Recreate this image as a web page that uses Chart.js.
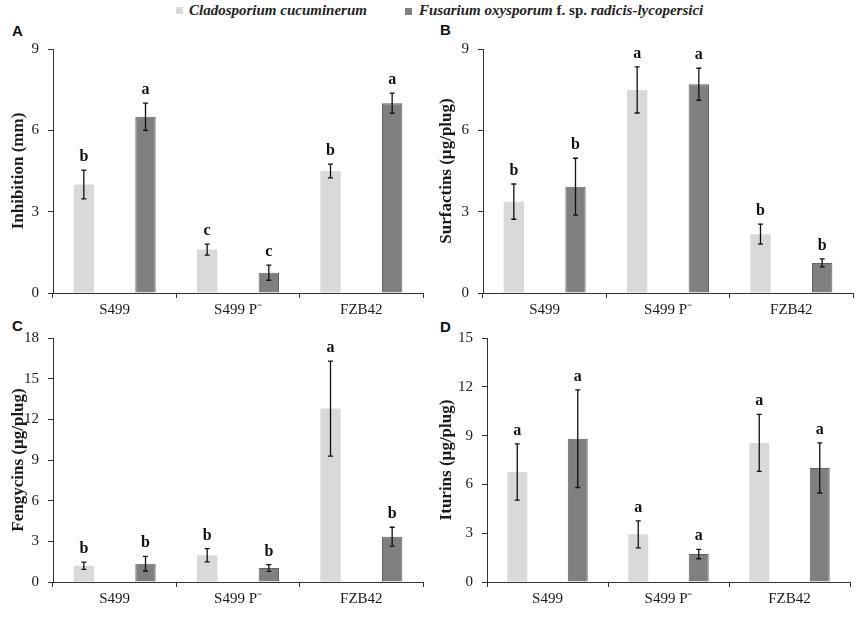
<!DOCTYPE html>
<html>
<head>
<meta charset="utf-8">
<script src="https://cdn.jsdelivr.net/npm/chart.js@4"></script>
<style>
  body { margin: 0; background: #fff; width: 856px; height: 618px; position: relative; overflow: hidden; }
  .panel { position: absolute; }
  .letter { position: absolute; font: bold 15px "Liberation Sans", Arial, sans-serif; line-height: 18px; color: #111; }
  .legend { position: absolute; top: 0; font: bold 15px "Liberation Serif", "Times New Roman", serif; line-height: 20px; color: #222; white-space: nowrap; }
  .sq { position: absolute; width: 7px; height: 7px; }
</style>
</head>
<body>

<div class="sq" style="left:176px;top:7px;background:#d9d9d9"></div>
<div class="legend" style="left:189px"><i>Cladosporium cucuminerum</i></div>
<div class="sq" style="left:405px;top:8px;background:#808080"></div>
<div class="legend" style="left:419px"><i>Fusarium oxysporum</i> f. sp. <i>radicis-lycopersici</i></div>

<div class="letter" style="left:12px;top:22px">A</div>
<div class="letter" style="left:440px;top:21px">B</div>
<div class="letter" style="left:12px;top:317px">C</div>
<div class="letter" style="left:440px;top:318px">D</div>

<div class="panel" style="left:0px;top:20px"><canvas id="chartA" width="428" height="298"></canvas></div>
<div class="panel" style="left:428px;top:20px"><canvas id="chartB" width="428" height="298"></canvas></div>
<div class="panel" style="left:0px;top:318px"><canvas id="chartC" width="428" height="300"></canvas></div>
<div class="panel" style="left:428px;top:318px"><canvas id="chartD" width="428" height="300"></canvas></div>

<script>
// strains on the x axis
const strains = ['S499', 'S499 P\u207B', 'FZB42'];
const seriesNames = ['Cladosporium cucuminerum', 'Fusarium oxysporum f. sp. radicis-lycopersici'];

// A - inhibition (mm)
const inhibClado = [4.0, 1.6, 4.5];
const inhibCladoErr = [0.53, 0.2, 0.25];
const inhibCladoLetters = ['b', 'c', 'b'];
const inhibFusa = [6.5, 0.75, 7.0];
const inhibFusaErr = [0.5, 0.28, 0.37];
const inhibFusaLetters = ['a', 'c', 'a'];

// B - surfactins (ug/plug)
const surfClado = [3.37, 7.49, 2.17];
const surfCladoErr = [0.65, 0.85, 0.37];
const surfCladoLetters = ['b', 'a', 'b'];
const surfFusa = [3.92, 7.7, 1.11];
const surfFusaErr = [1.05, 0.59, 0.15];
const surfFusaLetters = ['b', 'a', 'b'];

// C - fengycins (ug/plug)
const fengClado = [1.2, 1.97, 12.79];
const fengCladoErr = [0.27, 0.49, 3.5];
const fengCladoLetters = ['b', 'b', 'a'];
const fengFusa = [1.35, 1.03, 3.34];
const fengFusaErr = [0.54, 0.25, 0.7];
const fengFusaLetters = ['b', 'b', 'b'];

// D - iturins (ug/plug)
const iturClado = [6.76, 2.93, 8.55];
const iturCladoErr = [1.73, 0.83, 1.75];
const iturCladoLetters = ['a', 'a', 'a'];
const iturFusa = [8.81, 1.72, 7.01];
const iturFusaErr = [3.0, 0.29, 1.54];
const iturFusaLetters = ['a', 'a', 'a'];

// y axis maxima
const yMaxA = 9, yMaxB = 9, yMaxC = 18, yMaxD = 15;
const yStep = 3;

const serif = '"Liberation Serif", "Times New Roman", serif';

// error bars + significance letters
const errorBarPlugin = {
    id: 'errorBars',
    afterDatasetsDraw(chart) {
        const ctx = chart.ctx;
        const yScale = chart.scales.y;
        ctx.save();
        chart.data.datasets.forEach((ds, i) => {
            const meta = chart.getDatasetMeta(i);
            meta.data.forEach((bar, j) => {
                const v = ds.data[j], e = ds.errors[j];
                const top = yScale.getPixelForValue(v + e);
                const bottom = yScale.getPixelForValue(v - e);
                ctx.strokeStyle = '#111';
                ctx.lineWidth = 1.3;
                ctx.beginPath();
                ctx.moveTo(bar.x, top); ctx.lineTo(bar.x, bottom);
                ctx.moveTo(bar.x - 2.5, top); ctx.lineTo(bar.x + 2.5, top);
                ctx.moveTo(bar.x - 2.5, bottom); ctx.lineTo(bar.x + 2.5, bottom);
                ctx.stroke();
                ctx.fillStyle = '#111';
                ctx.font = 'bold 16px ' + serif;
                ctx.textAlign = 'center';
                ctx.textBaseline = 'alphabetic';
                ctx.fillText(ds.letters[j], bar.x, top - 9);
            });
        });
        ctx.restore();
    }
};

function makePanel(id, title, clado, cladoErr, cladoLet, fusa, fusaErr, fusaLet, yMax, box) {
    // box: chart area edges inside the canvas
    const canvas = document.getElementById(id);
    const yWidth = box.left;
    const xHeight = canvas.height - box.bottom;

    const config = {
        type: 'bar',
        data: {
            labels: strains,
            datasets: [
                {
                    label: seriesNames[0],
                    data: clado,
                    errors: cladoErr,
                    letters: cladoLet,
                    backgroundColor: '#d9d9d9',
                    borderColor: '#d4d4d4',
                    borderWidth: 0,
                    categoryPercentage: 1.0,
                    barPercentage: 0.33
                },
                {
                    label: seriesNames[1],
                    data: fusa,
                    errors: fusaErr,
                    letters: fusaLet,
                    backgroundColor: '#808080',
                    borderColor: '#646464',
                    borderWidth: 1,
                    categoryPercentage: 1.0,
                    barPercentage: 0.33
                }
            ]
        },
        options: {
            responsive: false,
            animation: false,
            layout: {
                padding: { top: box.top, right: canvas.width - box.right, left: 0, bottom: 0 }
            },
            plugins: {
                legend: { display: false },
                tooltip: { enabled: false }
            },
            scales: {
                x: {
                    afterFit: s => { s.height = xHeight; },
                    grid: {
                        offset: true,
                        drawOnChartArea: false,
                        drawTicks: true,
                        tickLength: 5,
                        color: '#333'
                    },
                    border: { display: true, color: '#333', width: 1 },
                    ticks: {
                        color: '#1a1a1a',
                        padding: 3,
                        font: { family: serif, size: 15 }
                    }
                },
                y: {
                    min: 0,
                    max: yMax,
                    afterFit: s => { s.width = yWidth; },
                    grid: {
                        drawOnChartArea: false,
                        drawTicks: true,
                        tickLength: 5,
                        color: '#333'
                    },
                    border: { display: true, color: '#333', width: 1 },
                    ticks: {
                        stepSize: yStep,
                        color: '#1a1a1a',
                        padding: 9,
                        font: { family: serif, size: 15 }
                    },
                    title: {
                        display: true,
                        text: title,
                        color: '#1a1a1a',
                        padding: { top: 8, bottom: 0 },
                        font: { family: serif, size: 17, weight: 'bold' }
                    }
                }
            }
        },
        plugins: [errorBarPlugin]
    };

    return new Chart(canvas, config);
}

makePanel('chartA', 'Inhibition (mm)', inhibClado, inhibCladoErr, inhibCladoLetters,
    inhibFusa, inhibFusaErr, inhibFusaLetters, yMaxA, { left: 53, top: 29, right: 423, bottom: 273 });
makePanel('chartB', 'Surfactins (\u00b5g/plug)', surfClado, surfCladoErr, surfCladoLetters,
    surfFusa, surfFusaErr, surfFusaLetters, yMaxB, { left: 55, top: 29, right: 425, bottom: 273 });
makePanel('chartC', 'Fengycins (\u00b5g/plug)', fengClado, fengCladoErr, fengCladoLetters,
    fengFusa, fengFusaErr, fengFusaLetters, yMaxC, { left: 53, top: 20, right: 423, bottom: 264 });
makePanel('chartD', 'Iturins (\u00b5g/plug)', iturClado, iturCladoErr, iturCladoLetters,
    iturFusa, iturFusaErr, iturFusaLetters, yMaxD, { left: 59, top: 20, right: 422, bottom: 264 });
</script>
</body>
</html>
